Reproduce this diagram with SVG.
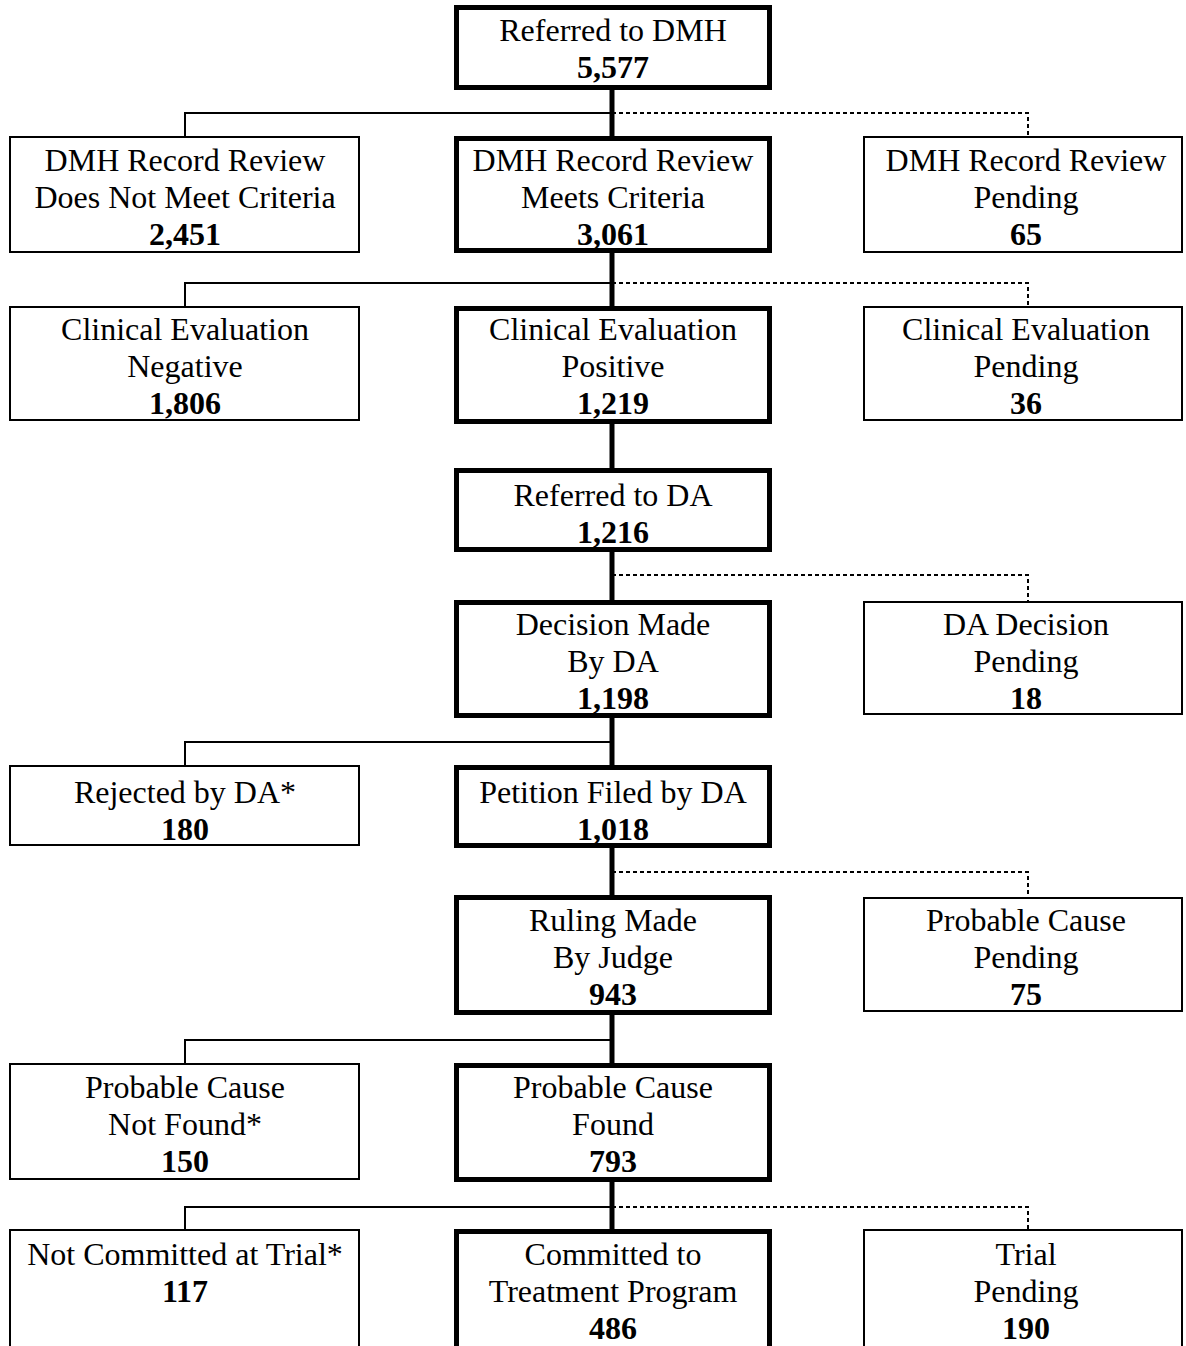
<svg xmlns="http://www.w3.org/2000/svg" width="1186" height="1346" viewBox="0 0 1186 1346">
<style>
.bg{fill:#fff}
.thin{fill:#fff;stroke:#000;stroke-width:2}
.thick{fill:#fff;stroke:#000;stroke-width:5}
.open{fill:none;stroke:#000;stroke-width:2}
.openthick{fill:none;stroke:#000;stroke-width:5}
text{font-family:"Liberation Serif","Times New Roman",serif;font-size:32px;text-anchor:middle;fill:#000}
.b{font-weight:bold}
.c-solid{fill:none;stroke:#000;stroke-width:2}
.c-dash{fill:none;stroke:#000;stroke-width:2;stroke-dasharray:4 3}
.c-main{fill:none;stroke:#000;stroke-width:5}
</style>
<rect class="bg" x="0" y="0" width="1186" height="1346"/>
<g id="connectors">
  <path class="c-main" d="M612,90 V136"/>
  <path class="c-solid" d="M612,113 H185 V136"/>
  <path class="c-dash" d="M612,113 H1028 V136"/>
  <path class="c-main" d="M612,253 V306"/>
  <path class="c-solid" d="M612,283 H185 V306"/>
  <path class="c-dash" d="M612,283 H1028 V306"/>
  <path class="c-main" d="M612,424 V468"/>
  <path class="c-main" d="M612,552 V600"/>
  <path class="c-dash" d="M612,575 H1028 V601"/>
  <path class="c-main" d="M612,718 V765"/>
  <path class="c-solid" d="M612,742 H185 V765"/>
  <path class="c-main" d="M612,848 V895"/>
  <path class="c-dash" d="M612,872 H1028 V897"/>
  <path class="c-main" d="M612,1015 V1063"/>
  <path class="c-solid" d="M612,1040 H185 V1063"/>
  <path class="c-main" d="M612,1182 V1229"/>
  <path class="c-solid" d="M612,1207 H185 V1229"/>
  <path class="c-dash" d="M612,1207 H1028 V1229"/>
</g>
<g id="referred-dmh">
  <rect class="thick" x="456.5" y="7.5" width="313" height="80"/>
  <text x="613" y="41">Referred to DMH</text>
  <text class="b" x="613" y="78">5,577</text>
</g>
<g id="dmh-not-meet">
  <rect class="thin" x="10" y="137" width="349" height="115"/>
  <text x="185" y="171">DMH Record Review</text>
  <text x="185" y="208">Does Not Meet Criteria</text>
  <text class="b" x="185" y="245">2,451</text>
</g>
<g id="dmh-meets">
  <rect class="thick" x="456.5" y="138.5" width="313" height="112"/>
  <text x="613" y="171">DMH Record Review</text>
  <text x="613" y="208">Meets Criteria</text>
  <text class="b" x="613" y="245">3,061</text>
</g>
<g id="dmh-pending">
  <rect class="thin" x="864" y="137" width="318" height="115"/>
  <text x="1026" y="171">DMH Record Review</text>
  <text x="1026" y="208">Pending</text>
  <text class="b" x="1026" y="245">65</text>
</g>
<g id="clin-negative">
  <rect class="thin" x="10" y="307" width="349" height="113"/>
  <text x="185" y="340">Clinical Evaluation</text>
  <text x="185" y="377">Negative</text>
  <text class="b" x="185" y="414">1,806</text>
</g>
<g id="clin-positive">
  <rect class="thick" x="456.5" y="308.5" width="313" height="113"/>
  <text x="613" y="340">Clinical Evaluation</text>
  <text x="613" y="377">Positive</text>
  <text class="b" x="613" y="414">1,219</text>
</g>
<g id="clin-pending">
  <rect class="thin" x="864" y="307" width="318" height="113"/>
  <text x="1026" y="340">Clinical Evaluation</text>
  <text x="1026" y="377">Pending</text>
  <text class="b" x="1026" y="414">36</text>
</g>
<g id="referred-da">
  <rect class="thick" x="456.5" y="470.5" width="313" height="79"/>
  <text x="613" y="506">Referred to DA</text>
  <text class="b" x="613" y="543">1,216</text>
</g>
<g id="decision-made">
  <rect class="thick" x="456.5" y="602.5" width="313" height="113"/>
  <text x="613" y="635">Decision Made</text>
  <text x="613" y="672">By DA</text>
  <text class="b" x="613" y="709">1,198</text>
</g>
<g id="da-pending">
  <rect class="thin" x="864" y="602" width="318" height="112"/>
  <text x="1026" y="635">DA Decision</text>
  <text x="1026" y="672">Pending</text>
  <text class="b" x="1026" y="709">18</text>
</g>
<g id="rejected-da">
  <rect class="thin" x="10" y="766" width="349" height="79"/>
  <text x="185" y="803">Rejected by DA*</text>
  <text class="b" x="185" y="840">180</text>
</g>
<g id="petition-filed">
  <rect class="thick" x="456.5" y="767.5" width="313" height="78"/>
  <text x="613" y="803">Petition Filed by DA</text>
  <text class="b" x="613" y="840">1,018</text>
</g>
<g id="ruling-made">
  <rect class="thick" x="456.5" y="897.5" width="313" height="115"/>
  <text x="613" y="931">Ruling Made</text>
  <text x="613" y="968">By Judge</text>
  <text class="b" x="613" y="1005">943</text>
</g>
<g id="pc-pending">
  <rect class="thin" x="864" y="898" width="318" height="113"/>
  <text x="1026" y="931">Probable Cause</text>
  <text x="1026" y="968">Pending</text>
  <text class="b" x="1026" y="1005">75</text>
</g>
<g id="pc-not-found">
  <rect class="thin" x="10" y="1064" width="349" height="115"/>
  <text x="185" y="1098">Probable Cause</text>
  <text x="185" y="1135">Not Found*</text>
  <text class="b" x="185" y="1172">150</text>
</g>
<g id="pc-found">
  <rect class="thick" x="456.5" y="1065.5" width="313" height="114"/>
  <text x="613" y="1098">Probable Cause</text>
  <text x="613" y="1135">Found</text>
  <text class="b" x="613" y="1172">793</text>
</g>
<g id="not-committed">
  <path class="open" d="M10,1350 V1230 H359 V1350"/>
  <text x="185" y="1265">Not Committed at Trial*</text>
  <text class="b" x="185" y="1302">117</text>
</g>
<g id="committed">
  <path class="openthick" d="M456.5,1350 V1231.5 H769.5 V1350"/>
  <text x="613" y="1265">Committed to</text>
  <text x="613" y="1302">Treatment Program</text>
  <text class="b" x="613" y="1339">486</text>
</g>
<g id="trial-pending">
  <path class="open" d="M864,1350 V1230 H1182 V1350"/>
  <text x="1026" y="1265">Trial</text>
  <text x="1026" y="1302">Pending</text>
  <text class="b" x="1026" y="1339">190</text>
</g>
</svg>
